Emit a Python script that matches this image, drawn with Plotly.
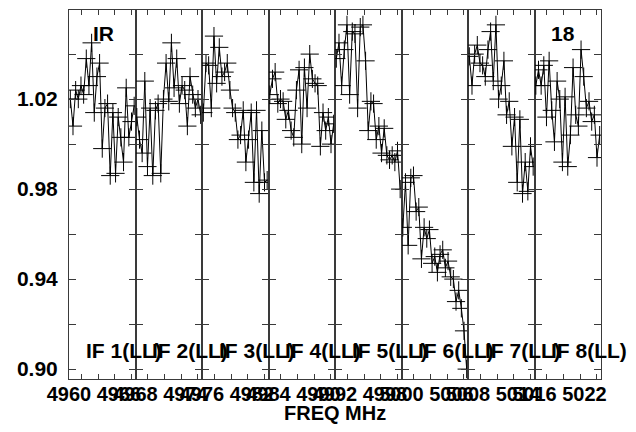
import numpy as np
import plotly.graph_objects as go
from plotly.subplots import make_subplots

# ---------------- data ----------------
if_names = ["IF 1(LL)", "IF 2(LL)", "IF 3(LL)", "IF 4(LL)",
            "IF 5(LL)", "IF 6(LL)", "IF 7(LL)", "IF 8(LL)"]
if_start_mhz = [4960, 4968, 4976, 4984, 4992, 5000, 5008, 5016]
if_width_mhz = 8
freq_label_offsets = [0, 6]          # labelled frequencies inside each IF

if1 = [1.020, 1.008, 1.024, 1.020, 1.026, 1.022, 1.038, 1.026, 1.045, 1.014, 1.030, 1.036, 0.998,
       1.016, 1.018, 0.986, 1.014, 0.987, 1.012, 1.003, 0.992, 1.025, 1.003, 1.010, 1.017]
if2 = [1.012, 1.002, 0.996, 1.028, 0.990, 1.016, 0.986, 1.015, 1.018, 0.987, 1.020, 1.036, 1.019,
       1.045, 1.025, 1.038, 1.018, 1.026, 1.024, 1.008, 1.030, 1.022, 1.016, 1.020, 1.013]
if3 = [1.014, 1.036, 1.035, 1.016, 1.048, 1.027, 1.043, 1.030, 1.032, 1.036, 1.024, 1.016, 1.014,
       1.002, 1.004, 1.015, 0.992, 1.002, 1.014, 0.983, 1.015, 0.978, 1.006, 0.983, 0.984]
if4 = [1.022, 1.029, 1.032, 1.018, 1.020, 1.019, 1.011, 1.015, 1.006, 1.003, 1.024, 1.033, 1.000,
       1.034, 1.016, 1.040, 1.029, 1.027, 1.026, 0.999, 1.014, 1.006, 1.012, 1.000, 1.009]
if5 = [1.038, 1.045, 1.026, 1.042, 1.053, 1.022, 1.050, 1.049, 1.016, 1.052, 1.053, 1.037, 1.006,
       1.019, 1.018, 1.002, 1.008, 0.996, 1.007, 0.995, 0.993, 0.995, 0.992, 0.997, 0.980]
if6 = [0.963, 0.983, 0.955, 0.985, 0.986, 0.970, 0.972, 0.949, 0.963, 0.958, 0.962, 0.947, 0.950,
       0.943, 0.951, 0.953, 0.945, 0.948, 0.941, 0.940, 0.930, 0.935, 0.927, 0.917, 0.900]
if7 = [1.039, 1.026, 1.040, 1.044, 1.036, 1.035, 1.030, 1.042, 1.050, 1.028, 1.053, 1.020, 1.026,
       1.037, 1.013, 1.019, 0.999, 1.012, 0.983, 1.011, 0.978, 0.992, 0.979, 0.999, 0.990]
if8 = [1.026, 1.033, 1.026, 1.035, 1.012, 1.037, 1.015, 1.001, 1.028, 1.020, 0.992, 1.021, 0.990,
       1.004, 1.034, 1.013, 1.008, 1.042, 1.030, 1.016, 1.019, 1.010, 1.013, 0.994, 1.004]
if_values = [if1, if2, if3, if4, if5, if6, if7, if8]

y_tick_vals = [0.90, 0.92, 0.94, 0.96, 0.98, 1.00, 1.02, 1.04]
y_tick_text = ["0.90", "", "0.94", "", "0.98", "", "1.02", ""]
y_range = [0.8956, 1.0596]

source_label = "IR"
stokes_label = "18"
x_title = "FREQ MHz"

# ---------------- figure ----------------
FONT = "Liberation Sans, Arial, sans-serif"
AXC = "#3a3a3a"
n_if = len(if_names)

fig = make_subplots(rows=1, cols=n_if, shared_yaxes=True, horizontal_spacing=0)

for k in range(n_if):
    vals = if_values[k]
    f0 = if_start_mhz[k]
    n = len(vals)
    freqs = f0 + (np.arange(n) + 0.5) * if_width_mhz / n
    fig.add_trace(go.Scatter(
        x=freqs, y=vals, mode="lines+markers",
        line=dict(color="black", width=1),
        marker=dict(symbol="cross-thin", size=13, line=dict(color="black", width=1)),
        showlegend=False, hoverinfo="skip"), row=1, col=k + 1)
    tv = [f0 + o for o in freq_label_offsets]
    fig.update_xaxes(
        row=1, col=k + 1,
        range=[f0, f0 + if_width_mhz],
        tickmode="array", tickvals=tv, ticktext=[str(v) for v in tv],
        ticks="", showline=True, linecolor=AXC, linewidth=1, mirror="ticks",
        showgrid=False, zeroline=False,
        minor=dict(tickmode="linear", tick0=f0 + 1.5, dtick=2, ticks="inside",
                   ticklen=5, tickcolor=AXC, tickwidth=1, showgrid=False),
        tickfont=dict(family=FONT, size=20, color="black", weight="bold"),
        ticklabelstandoff=-3,
    )
    fig.update_yaxes(
        row=1, col=k + 1,
        range=y_range, tickmode="array", tickvals=y_tick_vals, ticktext=y_tick_text,
        ticks="inside", ticklen=7, tickcolor=AXC, tickwidth=1,
        showline=True, linecolor=AXC, linewidth=1, mirror="ticks",
        showgrid=False, zeroline=False,
        tickfont=dict(family=FONT, size=21, color="black", weight="bold"),
        ticklabelstandoff=6,
    )
    fig.add_annotation(
        text=if_names[k], xref=f"x{'' if k == 0 else k + 1} domain", yref="paper",
        x=0.22, y=0.076, xanchor="left", yanchor="middle", showarrow=False,
        font=dict(family=FONT, size=21, color="black", weight="bold"))

fig.add_annotation(text=source_label, xref="x domain", yref="paper", x=0.33, y=0.935,
                   xanchor="left", yanchor="middle", showarrow=False,
                   font=dict(family=FONT, size=21, color="black", weight="bold"))
fig.add_annotation(text=stokes_label, xref=f"x{n_if} domain", yref="paper", x=0.22, y=0.935,
                   xanchor="left", yanchor="middle", showarrow=False,
                   font=dict(family=FONT, size=21, color="black", weight="bold"))
fig.add_annotation(text=x_title, xref="paper", yref="paper", x=0.5, y=-0.092,
                   xanchor="center", yanchor="middle", showarrow=False,
                   font=dict(family=FONT, size=20, color="black", weight="bold"))

# the page adds an 8 px body margin, so the figure is 8 px smaller than the window
fig.update_layout(
    width=628, height=424,
    margin=dict(l=61, r=35, t=2, b=53),
    paper_bgcolor="white", plot_bgcolor="white",
    showlegend=False,
)

fig.write_html("out.html")
